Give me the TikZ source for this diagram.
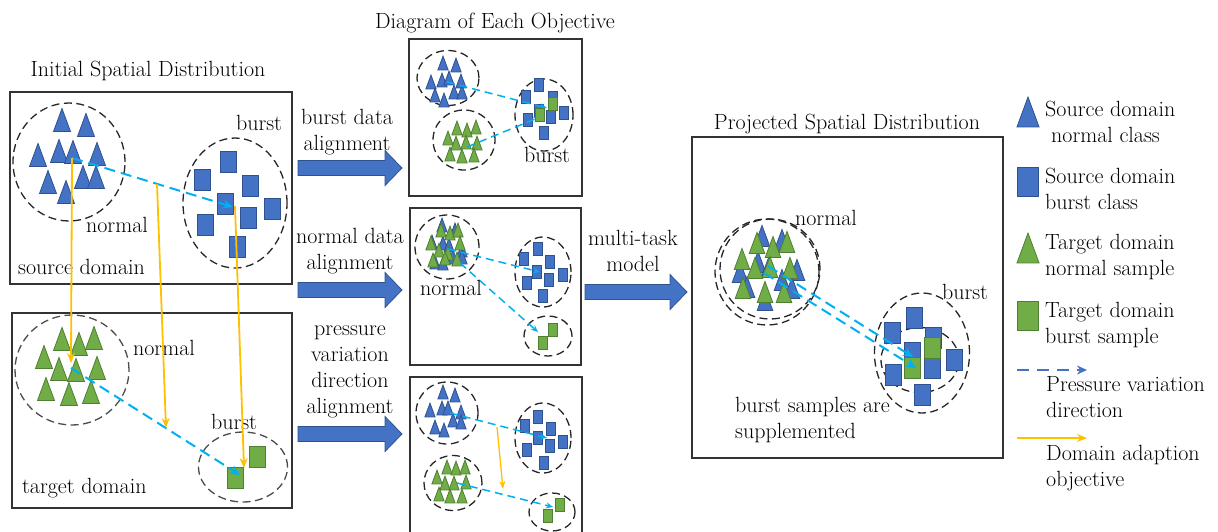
\documentclass[tikz,border=0pt]{standalone}
\usepackage{fontspec}
\usepackage{tikz}
\usetikzlibrary{arrows.meta,shapes.geometric}
\definecolor{eBlue}{HTML}{4472C4}
\definecolor{eBlueD}{HTML}{2F528F}
\definecolor{eGreen}{HTML}{70AD47}
\definecolor{eGreenD}{HTML}{507E32}
\definecolor{eCyan}{HTML}{00B0F0}
\definecolor{eOrange}{HTML}{FFC000}
\tikzset{bl/.style={fill=eBlue, draw=eBlueD, line width=.8pt}}
\tikzset{gr/.style={fill=eGreen, draw=eGreenD, line width=.8pt}}
\tikzset{sm/.style={scale=.6}}
\tikzset{tri/.pic={\path[pic actions] (-8.5,11.5) -- (8.5,11.5) -- (0,-11.5) -- cycle;}}
\tikzset{sq/.pic={\path[pic actions] (-8,-10.5) rectangle (8,10.5);}}
\tikzset{box/.style={draw=black!80, line width=1.5pt, inner sep=0pt}}
\tikzset{clu/.style={ellipse, draw=black!85, line width=1.3pt,
  dash pattern=on 8pt off 4.5pt, inner sep=0pt}}
\tikzset{pv/.style={draw=eCyan, line width=2pt, dash pattern=on 11pt off 6pt,
  -{Stealth[length=10pt, width=9pt]}}}
\tikzset{spv/.style={pv, line width=1.5pt, dash pattern=on 8pt off 5pt,
  -{Stealth[length=7pt, width=6pt]}}}
\tikzset{da/.style={draw=eOrange, line width=1.8pt, -{Stealth[length=10pt, width=8pt]}}}
\tikzset{barr/.style={fill=eBlue, draw=eBlueD, line width=.8pt}}
\tikzset{t/.style={font=\fontsize{22}{26}\selectfont, inner sep=0pt}}
\newcommand{\bigarrow}[3]{\path[barr] (#1,{#3-7.5}) -- ({#2-17},{#3-7.5})
  -- ({#2-17},{#3-17.5}) -- (#2,#3) -- ({#2-17},{#3+17.5})
  -- ({#2-17},{#3+7.5}) -- (#1,{#3+7.5}) -- cycle;}

\begin{document}
\begin{tikzpicture}[x=1pt, y=-1pt]
    \useasboundingbox (0,0) rectangle (1218,531);
    %% titles
    \node (tI) at (148,71) [t] {Initial Spatial Distribution};
    \node (tD) at (495,23) [t] {Diagram of Each Objective};
    \node (tP) at (847,124) [t] {Projected Spatial Distribution};
    %% source domain
    \node (src) at (151,188) [box, minimum width=282, minimum height=192] {};
    \node (sN) at (69,162) [clu, minimum width=112, minimum height=118] {};
    \node (sB) at (235,203) [clu, minimum width=104, minimum height=130] {};
    \pic[bl] at (62,120) {tri}; \pic[bl] at (86,125) {tri};
    \pic[bl] at (38,155) {tri}; \pic[bl] at (59,151) {tri};
    \pic[bl] at (73,152) {tri}; \pic[bl] at (97,154) {tri};
    \pic[bl] at (48,182) {tri}; \pic[bl] at (83,177) {tri};
    \pic[bl] at (96,177) {tri}; \pic[bl] at (66,192) {tri};
    \pic[bl] at (228,162) {sq}; \pic[bl] at (202,180) {sq};
    \pic[bl] at (250,186) {sq}; \pic[bl] at (225,204) {sq};
    \pic[bl] at (272,209) {sq}; \pic[bl] at (248,218) {sq};
    \pic[bl] at (205,225) {sq}; \pic[bl] at (237,247) {sq};
    \node (sNl) at (117,225) [t] {normal};
    \node (sBl) at (259,123) [t] {burst};
    \node (srcl) at (18,267) [t, anchor=west] {source domain};
    \coordinate (sa) at (72,158);
    \coordinate (sb) at (233,207);
    \coordinate (sm) at (157,184);
    \coordinate (sc) at (235,206);
    %% target domain
    \node (tgt) at (152,410.5) [box, minimum width=280, minimum height=195] {};
    \node (tN) at (72,370) [clu, draw=black!70, minimum width=114, minimum height=110] {};
    \node (tB) at (243,467) [clu, draw=black!70, minimum width=89, minimum height=70] {};
    \pic[gr] at (62,339) {tri}; \pic[gr] at (79,344) {tri};
    \pic[gr] at (94,338) {tri}; \pic[gr] at (44,357) {tri};
    \pic[gr] at (59,369) {tri}; \pic[gr] at (76,370) {tri};
    \pic[gr] at (97,368) {tri}; \pic[gr] at (46,389) {tri};
    \pic[gr] at (69,394) {tri}; \pic[gr] at (91,392) {tri};
    \pic[gr] at (257,457) {sq}; \pic[gr] at (235,478) {sq};
    \node (tNl) at (164,348) [t] {normal};
    \node (tBl) at (234,422) [t] {burst};
    \node (tgtl) at (22,488) [t, anchor=west] {target domain};
    \coordinate (ta) at (71,368);
    \coordinate (tb) at (240,475);
    \coordinate (tm) at (166,428);
    \coordinate (tc) at (244,468);
    \coordinate (td) at (71,363);
    \draw [pv] (sa) -- (sb);
    \draw [pv] (ta) -- (tb);
    \draw [da] (sa) -- (td);
    \draw [da] (sm) -- (tm);
    \draw [da] (sc) -- (tc);
    %% block arrows and their labels
    \bigarrow{298}{402}{168}
    \bigarrow{298}{402}{290}
    \bigarrow{298}{402}{434}
    \bigarrow{585}{687}{292}
    \node (l1) at (347,132) [t, align=center] {burst data\\alignment};
    \node (l2) at (350,251) [t, align=center] {normal data\\alignment};
    \node (l3) at (350,372) [t, align=center] {pressure\\variation\\direction\\alignment};
    \node (l4) at (633,251) [t, align=center] {multi-task\\model};
    %% burst data alignment
    \node (m1) at (495.5,117.5) [box, minimum width=173, minimum height=157] {};
    \node (aN) at (448,78) [clu, minimum width=62, minimum height=55] {};
    \node (aG) at (464,140) [clu, minimum width=62, minimum height=60] {};
    \node (aB) at (544,115) [clu, minimum width=58, minimum height=72] {};
    \pic[bl,sm] at (443,63) {tri}; \pic[bl,sm] at (456,65) {tri};
    \pic[bl,sm] at (431,82) {tri}; \pic[bl,sm] at (442,80) {tri};
    \pic[bl,sm] at (449,78) {tri}; \pic[bl,sm] at (461,81) {tri};
    \pic[bl,sm] at (454,92) {tri}; \pic[bl,sm] at (462,92) {tri};
    \pic[bl,sm] at (435,95) {tri}; \pic[bl,sm] at (444,100) {tri};
    \pic[gr,sm] at (457,128) {tri}; \pic[gr,sm] at (467,130) {tri};
    \pic[gr,sm] at (476,127) {tri}; \pic[gr,sm] at (448,138) {tri};
    \pic[gr,sm] at (456,143) {tri}; \pic[gr,sm] at (466,142) {tri};
    \pic[gr,sm] at (477,143) {tri}; \pic[gr,sm] at (450,154) {tri};
    \pic[gr,sm] at (462,156) {tri}; \pic[gr,sm] at (474,155) {tri};
    \pic[bl,sm] at (539,85) {sq}; \pic[bl,sm] at (526,97) {sq};
    \pic[bl,sm] at (553,98) {sq}; \pic[bl,sm] at (539,111) {sq};
    \pic[bl,sm] at (564,113) {sq}; \pic[bl,sm] at (528,120) {sq};
    \pic[bl,sm] at (551,117) {sq}; \pic[bl,sm] at (544,133) {sq};
    \coordinate (a1) at (447,82);
    \coordinate (a2) at (547,108);
    \coordinate (a3) at (467,147);
    \coordinate (a4) at (540,117);
    \draw [spv] (a1) -- (a2);
    \draw [spv] (a3) -- (a4);
    \pic[gr,sm] at (553,104) {sq}; \pic[gr,sm] at (540,115) {sq};
    \node (aBl) at (547,155) [t] {burst};
    %% normal data alignment
    \node (m2) at (495.5,286.5) [box, minimum width=171, minimum height=157] {};
    \node (bN) at (447,247) [clu, minimum width=64, minimum height=64] {};
    \node (bB) at (543,272) [clu, minimum width=56, minimum height=70] {};
    \node (bG) at (548,336) [clu, minimum width=48, minimum height=40] {};
    \pic[bl,sm] at (442,225) {tri}; \pic[bl,sm] at (455,230) {tri};
    \pic[bl,sm] at (432,242) {tri}; \pic[bl,sm] at (443,243) {tri};
    \pic[bl,sm] at (449,245) {tri}; \pic[bl,sm] at (462,250) {tri};
    \pic[bl,sm] at (453,257) {tri}; \pic[bl,sm] at (462,257) {tri};
    \pic[bl,sm] at (435,262) {tri}; \pic[bl,sm] at (443,263) {tri};
    \pic[gr,sm] at (441,230) {tri}; \pic[gr,sm] at (450,233) {tri};
    \pic[gr,sm] at (458,230) {tri}; \pic[gr,sm] at (431,243) {tri};
    \pic[gr,sm] at (439,250) {tri}; \pic[gr,sm] at (448,253) {tri};
    \pic[gr,sm] at (460,243) {tri}; \pic[gr,sm] at (433,260) {tri};
    \pic[gr,sm] at (445,258) {tri}; \pic[gr,sm] at (457,259) {tri};
    \pic[bl,sm] at (524,259) {sq}; \pic[bl,sm] at (538,249) {sq};
    \pic[bl,sm] at (550,262) {sq}; \pic[bl,sm] at (537,272) {sq};
    \pic[bl,sm] at (563,275) {sq}; \pic[bl,sm] at (549,280) {sq};
    \pic[bl,sm] at (527,283) {sq}; \pic[bl,sm] at (543,296) {sq};
    \pic[gr,sm] at (553,330) {sq}; \pic[gr,sm] at (543,343) {sq};
    \coordinate (b1) at (448,249);
    \coordinate (b2) at (540,272);
    \coordinate (b3) at (460,263);
    \coordinate (b4) at (538,332);
    \draw [spv] (b1) -- (b2);
    \draw [spv] (b3) -- (b4);
    \node (bNl) at (451,288) [t] {normal};
    %% pressure variation direction alignment
    \node (m3) at (496,461) [box, minimum width=172, minimum height=168] {};
    \node (cN) at (447,413) [clu, minimum width=62, minimum height=62] {};
    \node (cB) at (543,438) [clu, minimum width=56, minimum height=70] {};
    \node (cG) at (453,483) [clu, minimum width=58, minimum height=55] {};
    \node (cGB) at (552,512) [clu, minimum width=46, minimum height=38] {};
    \pic[bl,sm] at (443,392) {tri}; \pic[bl,sm] at (455,395) {tri};
    \pic[bl,sm] at (430,410) {tri}; \pic[bl,sm] at (442,408) {tri};
    \pic[bl,sm] at (448,408) {tri}; \pic[bl,sm] at (461,412) {tri};
    \pic[bl,sm] at (453,420) {tri}; \pic[bl,sm] at (461,422) {tri};
    \pic[bl,sm] at (435,427) {tri}; \pic[bl,sm] at (444,430) {tri};
    \pic[bl,sm] at (538,417) {sq}; \pic[bl,sm] at (525,426) {sq};
    \pic[bl,sm] at (551,429) {sq}; \pic[bl,sm] at (538,438) {sq};
    \pic[bl,sm] at (563,442) {sq}; \pic[bl,sm] at (550,446) {sq};
    \pic[bl,sm] at (527,450) {sq}; \pic[bl,sm] at (544,463) {sq};
    \pic[gr,sm] at (447,467) {tri}; \pic[gr,sm] at (456,468) {tri};
    \pic[gr,sm] at (465,467) {tri}; \pic[gr,sm] at (437,477) {tri};
    \pic[gr,sm] at (445,483) {tri}; \pic[gr,sm] at (454,483) {tri};
    \pic[gr,sm] at (466,482) {tri}; \pic[gr,sm] at (439,494) {tri};
    \pic[gr,sm] at (450,496) {tri}; \pic[gr,sm] at (462,496) {tri};
    \pic[gr,sm] at (560,505) {sq}; \pic[gr,sm] at (548,516) {sq};
    \coordinate (c1) at (450,413);
    \coordinate (c2) at (547,438);
    \coordinate (c3) at (457,483);
    \coordinate (c4) at (553,507);
    \coordinate (c5) at (497,427);
    \coordinate (c6) at (503,489);
    \draw [spv] (c1) -- (c2);
    \draw [spv] (c3) -- (c4);
    \draw [da, line width=1.3pt, -{Stealth[length=8pt, width=6pt]}] (c5) -- (c6);
    %% projected spatial distribution
    \node (prj) at (847.5,297.5) [box, minimum width=311, minimum height=321] {};
    \node (pN) at (767,272) [clu, minimum width=104, minimum height=106] {};
    \node (pN2) at (770,269) [clu, minimum width=100, minimum height=100] {};
    \node (pB) at (922,353) [clu, minimum width=95, minimum height=120] {};
    \node (pBi) at (920,360) [clu, minimum width=78, minimum height=65] {};
    \pic[bl,scale=.92] at (762,236) {tri}; \pic[bl,scale=.92] at (782,240) {tri};
    \pic[bl,scale=.92] at (758,262) {tri}; \pic[bl,scale=.92] at (769,267) {tri};
    \pic[bl,scale=.92] at (740,272) {tri}; \pic[bl,scale=.92] at (797,270) {tri};
    \pic[bl,scale=.92] at (782,280) {tri}; \pic[bl,scale=.92] at (747,287) {tri};
    \pic[bl,scale=.92] at (765,300) {tri}; \pic[bl,scale=.92] at (792,288) {tri};
    \pic[gr,scale=.92] at (757,243) {tri}; \pic[gr,scale=.92] at (787,242) {tri};
    \pic[gr,scale=.92] at (773,247) {tri}; \pic[gr,scale=.92] at (742,259) {tri};
    \pic[gr,scale=.92] at (755,268) {tri}; \pic[gr,scale=.92] at (770,267) {tri};
    \pic[gr,scale=.92] at (790,268) {tri}; \pic[gr,scale=.92] at (743,288) {tri};
    \pic[gr,scale=.92] at (765,292) {tri}; \pic[gr,scale=.92] at (784,292) {tri};
    \pic[bl] at (914,318) {sq}; \pic[bl] at (892,333) {sq};
    \pic[bl] at (933,338) {sq}; \pic[bl] at (912,353) {sq};
    \pic[bl] at (954,360) {sq}; \pic[bl] at (932,368) {sq};
    \pic[bl] at (893,375) {sq}; \pic[bl] at (922,395) {sq};
    \pic[gr] at (932,348) {sq}; \pic[gr] at (912,368) {sq};
    \coordinate (p1) at (764,273);
    \coordinate (p2) at (916,368);
    \coordinate (p3) at (768,266);
    \coordinate (p4) at (913,357);
    \draw [pv] (p1) -- (p2);
    \draw [pv] (p3) -- (p4);
    \node (pNl) at (826,218) [t] {normal};
    \node (pBl) at (965,292) [t] {burst};
    \node (pSl) at (735,420) [t, anchor=west, align=left] {burst samples are\\supplemented};
    %% legend
    \pic[bl,scale=1.3] at (1028,112) {tri};
    \pic[bl,scale=1.35] at (1028,182) {sq};
    \pic[gr,scale=1.3] at (1028,248) {tri};
    \pic[gr,scale=1.35] at (1028,316) {sq};
    \node (k1) at (1045,121.5) [t, anchor=west, align=left] {Source domain\\\hspace{6pt}normal class};
    \node (k2) at (1045,189) [t, anchor=west, align=left] {Source domain\\burst class};
    \node (k3) at (1045,257.5) [t, anchor=west, align=left] {Target domain\\normal sample};
    \node (k4) at (1045,325) [t, anchor=west, align=left] {Target domain\\burst sample};
    \coordinate (k5a) at (1017,370);
    \coordinate (k5b) at (1087,370);
    \draw [pv, draw=eBlue, dash pattern=on 12pt off 8pt] (k5a) -- (k5b);
    \node (k5) at (1046,397.5) [t, anchor=west, align=left] {Pressure variation\\direction};
    \coordinate (k6a) at (1017,438);
    \coordinate (k6b) at (1087,438);
    \draw [da] (k6a) -- (k6b);
    \node (k6) at (1046,468.5) [t, anchor=west, align=left] {Domain adaption\\objective};
\end{tikzpicture}
\end{document}
